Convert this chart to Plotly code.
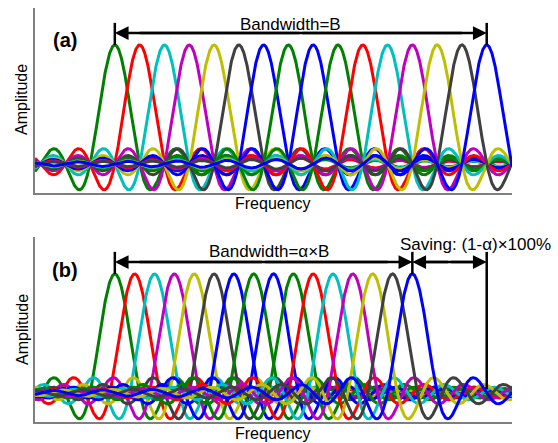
import numpy as np
import plotly.graph_objects as go

# ---- data ----
subcarrier_index = [0, 1, 2, 3, 4, 5, 6, 7, 8, 9, 10, 11, 12, 13, 14, 15]
spacing_a = 1.0          # orthogonal spacing (panel a)
alpha = 0.8              # compressed spacing factor (panel b)
peak_amplitude = 1.0
freq_range = [-3.22, 16.02]
amp_range = [-0.244, 1.31]

# ---- styles ----
palette = ['#008000', '#ff0000', '#00bfbf', '#bf00bf', '#bfbf00', '#404040', '#0000ff', '#008000',
           '#0000ff', '#008000', '#ff0000', '#00bfbf', '#bf00bf', '#bfbf00', '#404040', '#0000ff']
FONT = 'Arial, Liberation Sans, sans-serif'

W, H = 558, 443
def px_x(p):
    return p / W
def px_y(p):
    return 1 - p / H

fig = go.Figure()
f = np.linspace(freq_range[0], freq_range[1], 3000)

for panel, spacing, xa, ya in [('a', spacing_a, 'x', 'y'), ('b', alpha, 'x2', 'y2')]:
    for k, c in zip(subcarrier_index, palette):
        center = k * spacing
        fig.add_trace(go.Scatter(x=f, y=peak_amplitude * np.sinc(f - center), mode='lines',
                                 line=dict(color=c, width=3), xaxis=xa, yaxis=ya,
                                 showlegend=False, hoverinfo='skip'))

axis_common = dict(showgrid=False, zeroline=False, showticklabels=False, ticks='',
                   showline=True, linecolor='#808080', linewidth=2, mirror=False)
fig.update_layout(
    width=W, height=H, margin=dict(l=0, r=0, t=0, b=0),
    paper_bgcolor='white', plot_bgcolor='white',
    xaxis=dict(domain=[px_x(35), px_x(512)], range=freq_range, anchor='y', **axis_common),
    yaxis=dict(domain=[px_y(193), px_y(8)], range=amp_range, anchor='x', **axis_common),
    xaxis2=dict(domain=[px_x(35), px_x(512)], range=freq_range, anchor='y2', **axis_common),
    yaxis2=dict(domain=[px_y(422), px_y(237)], range=amp_range, anchor='x2', **axis_common),
)

n_last = subcarrier_index[-1]
end_a = n_last * spacing_a
end_b = n_last * alpha

def arrow(xref, yref, x0, x1, y):
    fig.add_annotation(x=x1, y=y, ax=x0, ay=y, xref=xref, yref=yref, axref=xref, ayref=yref,
                       text='', showarrow=True, arrowhead=2, arrowsize=1.1, arrowwidth=2.5,
                       arrowcolor='black', standoff=0, startstandoff=0)

def seg(xref, yref, x0, x1, y0, y1):
    fig.add_shape(type='line', xref=xref, yref=yref, x0=x0, x1=x1, y0=y0, y1=y1,
                  line=dict(color='black', width=2.5))

def label(x, y, text, size, xref='paper', yref='paper', angle=0):
    fig.add_annotation(x=x, y=y, xref=xref, yref=yref, text=text, showarrow=False,
                       xanchor='center', yanchor='middle', textangle=angle,
                       font=dict(family=FONT, size=size, color='black'))

# panel (a) annotations
arr_y = 1.10
seg('x', 'y', 0, 0, 1.0, 1.185)
seg('x', 'y', end_a, end_a, 1.0, 1.185)
seg('x', 'y', 1, end_a - 1, arr_y, arr_y)
arrow('x', 'y', end_a / 2, 0, arr_y)
arrow('x', 'y', end_a / 2, end_a, arr_y)
label(7.1, 1.17, 'Bandwidth=B', 17, 'x', 'y')

# panel (b) annotations
seg('x2', 'y2', 0, 0, 1.0, 1.185)
seg('x2', 'y2', end_b, end_b, 1.0, 1.185)
seg('x2', 'y2', end_a, end_a, 0.03, 1.185)
seg('x2', 'y2', 1, end_b - 1, arr_y, arr_y)
seg('x2', 'y2', end_b + 0.5, end_a - 0.5, arr_y, arr_y)
arrow('x2', 'y2', end_b / 2, 0, arr_y)
arrow('x2', 'y2', end_b / 2, end_b, arr_y)
arrow('x2', 'y2', (end_a + end_b) / 2, end_b, arr_y)
arrow('x2', 'y2', (end_a + end_b) / 2, end_a, arr_y)
label(6.2, 1.19, 'Bandwidth=α×B', 17, 'x2', 'y2')
label(14.55, 1.25, 'Saving: (1-α)×100%', 17, 'x2', 'y2')

# panel labels and axis titles
for lab, yp in [('(a)', 40), ('(b)', 270)]:
    label(px_x(65), px_y(yp), '<b>' + lab + '</b>', 20)
for yp in [100, 330]:
    label(px_x(22), px_y(yp), 'Amplitude', 16, angle=-90)
for yp in [203, 433]:
    label(px_x(273), px_y(yp), 'Frequency', 16)

fig.write_html('out.html', config={'displayModeBar': False},
               post_script="document.body.style.margin='0';")
